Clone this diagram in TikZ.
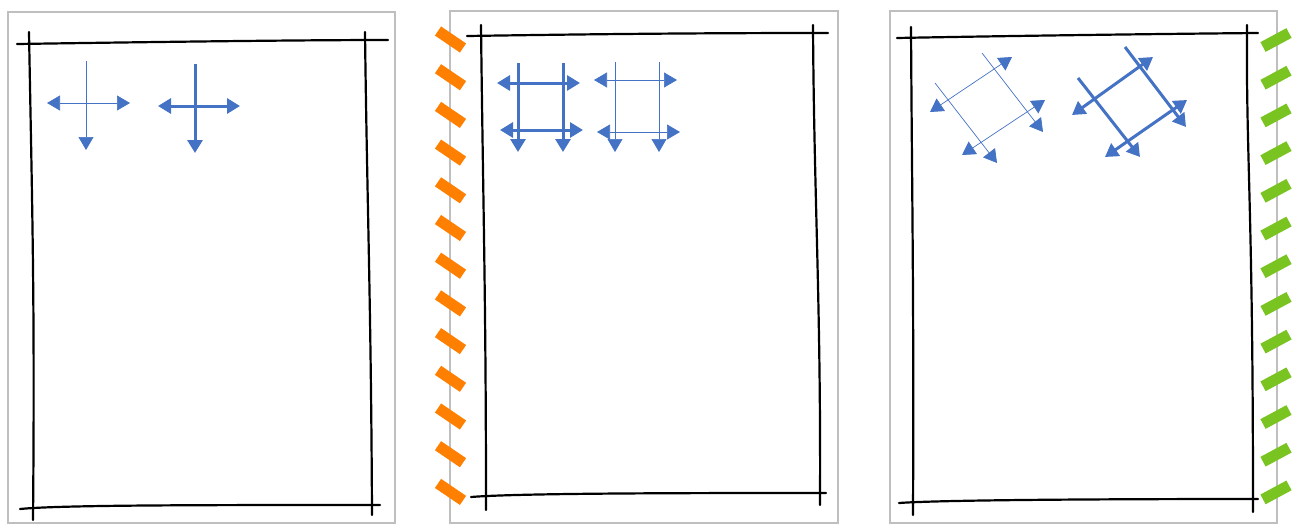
\documentclass[tikz,border=0pt]{standalone}
\usetikzlibrary{arrows.meta}
\definecolor{waku}{RGB}{191,191,191}
\definecolor{ao}{RGB}{68,114,196}
\definecolor{daidai}{RGB}{255,128,0}
\definecolor{midori}{RGB}{122,196,34}
\begin{document}
\begin{tikzpicture}[x=1pt, y=-1pt, >={Triangle[length=13pt,width=15pt]},
  sketch/.style={black, line width=2.2pt, line cap=round},
  hoso/.style={ao, line width=0.7pt},
  futo/.style={ao, line width=3pt}]
  \useasboundingbox (0,0) rectangle (1299,525);

  % 外枠（灰色）
  \draw[waku, line width=2.5pt] (8,12) rectangle (395,523);
  \draw[waku, line width=2.5pt] (450,11) rectangle (838,523);
  \draw[waku, line width=2.5pt] (890,11) rectangle (1277,523);

  % 左のテープ（橙）と右のテープ（緑）
  \foreach \i in {0,...,12} {
    \draw[daidai, line width=11pt] (438,{31+37.7*\i}) -- (463,{48+37.7*\i});
    \draw[midori, line width=11pt] (1263,{47+37.7*\i}) -- (1289,{33+37.7*\i});
  }

  % 手描きの枠 (1)
  \draw[sketch] (17,44) .. controls (150,42) and (300,40) .. (388,40);
  \draw[sketch] (29,32) .. controls (32,200) and (35,300) .. (33,520);
  \draw[sketch] (365,32) .. controls (367,200) and (371,300) .. (372,515);
  \draw[sketch] (20,509) .. controls (60,505) and (200,505) .. (380,505);

  % 手描きの枠 (2)
  \draw[sketch] (467,36) .. controls (600,34) and (700,33) .. (828,33);
  \draw[sketch] (481,25) .. controls (483,200) and (486,300) .. (486,510);
  \draw[sketch] (813,25) .. controls (814,200) and (821,300) .. (820,505);
  \draw[sketch] (471,497) .. controls (520,493) and (700,493) .. (826,493);

  % 手描きの枠 (3)
  \draw[sketch] (897,38) .. controls (1000,36) and (1150,34) .. (1258,33);
  \draw[sketch] (911,27) .. controls (912,200) and (914,300) .. (913,515);
  \draw[sketch] (1247,25) .. controls (1246,160) and (1253,200) .. (1253,512);
  \draw[sketch] (899,503) .. controls (940,500) and (1100,499) .. (1258,499);

  % 十字の矢印
  \draw[hoso, <->] (47,103) -- (130,103);
  \draw[hoso, ->] (86,61) -- (86,150);
  \draw[futo, <->] (158,106) -- (240,106);
  \draw[futo, ->] (195,64) -- (195,153);

  % 四角の矢印（太）
  \foreach \x in {518,563} {
    \draw[futo, ->] (\x,63) -- (\x,152);
  }
  \draw[futo, <->] (497,83) -- (580,83);
  \draw[futo, <->] (500,130) -- (583,130);

  % 四角の矢印（細）
  \foreach \x in {615,659} {
    \draw[hoso, ->] (\x,62) -- (\x,152);
  }
  \draw[hoso, <->] (594,80) -- (677,80);
  \draw[hoso, <->] (597,132) -- (680,132);

  % 傾いた四角（細）
  \draw[hoso, ->] (935,83) -- (997,163);
  \draw[hoso, ->] (982,53) -- (1043,132);
  \draw[hoso, <->] (930,112) -- (1012,57);
  \draw[hoso, <->] (962,155) -- (1045,100);

  % 傾いた四角（太）
  \draw[futo, ->] (1078,78) -- (1140,157);
  \draw[futo, ->] (1125,47) -- (1186,127);
  \draw[futo, <->] (1072,115) -- (1153,57);
  \draw[futo, <->] (1105,157) -- (1187,100);

\end{tikzpicture}
\end{document}
